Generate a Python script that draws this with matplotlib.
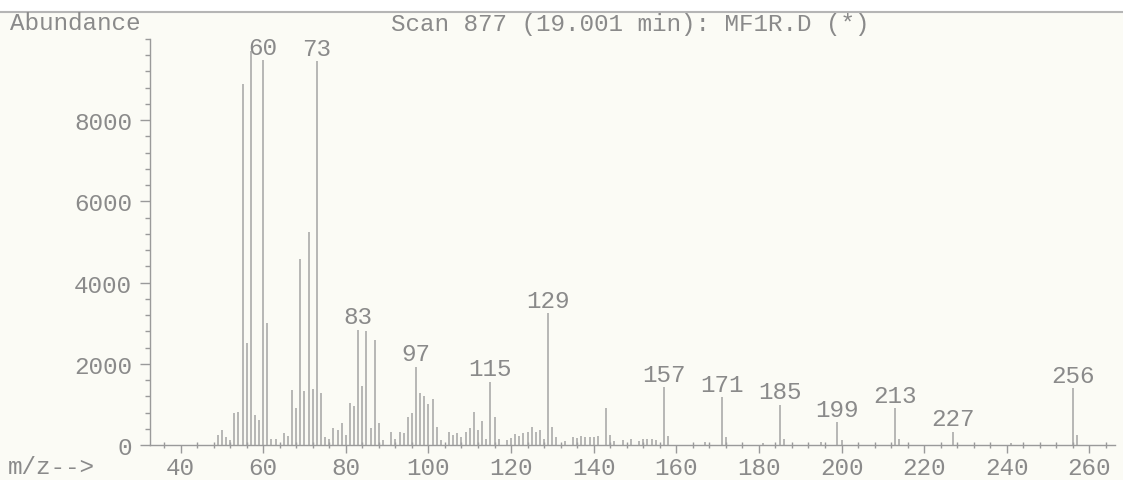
import matplotlib
matplotlib.use("Agg")
import matplotlib.pyplot as plt
from matplotlib.ticker import MultipleLocator

# m/z values and their abundances
mz = [49, 50, 51, 52, 53, 54, 55, 56, 57, 58, 59, 60, 61, 62, 63, 65, 66, 67, 68,
      69, 70, 71, 72, 73, 74, 75, 76, 77, 78, 79, 80, 81, 82, 83, 84, 85, 86, 87,
      88, 89, 91, 92, 93, 94, 95, 96, 97, 98, 99, 100, 101, 102, 103, 105, 106,
      107, 108, 109, 110, 111, 112, 113, 114, 115, 116, 117, 119, 120, 121, 122,
      123, 124, 125, 126, 127, 128, 129, 130, 131, 133, 135, 136, 137, 138, 139,
      140, 141, 143, 144, 145, 147, 149, 151, 152, 153, 154, 155, 157, 158, 167,
      171, 172, 181, 185, 186, 195, 199, 200, 213, 214, 227, 241, 256, 257]
abundance = [250, 370, 200, 120, 780, 820, 8900, 2510, 9700, 740, 620, 9480, 3000,
             160, 160, 290, 220, 1360, 900, 4590, 1320, 5250, 1370, 9450, 1280, 200,
             150, 410, 370, 530, 250, 1030, 950, 2840, 1460, 2800, 410, 2590, 530,
             120, 330, 150, 330, 290, 700, 780, 1930, 1280, 1200, 1000, 1130, 450,
             120, 330, 250, 290, 200, 330, 410, 820, 370, 580, 150, 1560, 700, 150,
             120, 180, 270, 220, 290, 330, 450, 330, 370, 150, 3250, 450, 200, 100,
             200, 180, 210, 200, 200, 200, 220, 900, 250, 100, 120, 160, 110, 150,
             150, 150, 120, 1420, 230, 80, 1180, 200, 60, 990, 150, 80, 560, 120,
             900, 150, 330, 50, 1400, 250]

# peaks that get an m/z label
labeled = [60, 73, 83, 97, 115, 129, 157, 171, 185, 199, 213, 227, 256]

title = "Scan 877 (19.001 min): MF1R.D (*)"

paper = "#fbfbf5"
ink = "#8a8a8a"
font = ["Liberation Mono", "DejaVu Sans Mono"]
fs = 17.5

fig = plt.figure(figsize=(11.23, 4.81), dpi=100, facecolor=paper)
ax = fig.add_axes([150 / 1123, 35 / 481, 965 / 1123, 406 / 481])
ax.set_facecolor(paper)

ax.vlines(mz, 0, abundance, color="#a4a4a4", linewidth=1.1)

heights = dict(zip(mz, abundance))
for m in labeled:
    ax.annotate(str(m), (m, heights[m]), xytext=(0, 1), textcoords="offset points",
                ha="center", va="bottom", fontsize=fs, family=font, color=ink)

ax.set_xlim(32.6, 266.2)
ax.set_ylim(0, 10000)

for s in ["top", "right"]:
    ax.spines[s].set_visible(False)
for s in ["left", "bottom"]:
    ax.spines[s].set_color("#9a9a9a")
    ax.spines[s].set_linewidth(1.0)

ax.xaxis.set_major_locator(MultipleLocator(20))
ax.xaxis.set_minor_locator(MultipleLocator(4))
ax.yaxis.set_major_locator(MultipleLocator(2000))
ax.yaxis.set_minor_locator(MultipleLocator(400))
ax.set_yticks([0, 2000, 4000, 6000, 8000])

ax.tick_params(axis="x", which="major", direction="out", length=6, width=1,
               color="#9a9a9a", pad=2, labelsize=fs, labelcolor=ink)
ax.tick_params(axis="x", which="minor", direction="inout", length=4, width=1,
               color="#9a9a9a")
ax.tick_params(axis="y", which="major", direction="out", length=7, width=1,
               color="#9a9a9a", pad=6, labelsize=fs, labelcolor=ink)
ax.tick_params(axis="y", which="minor", direction="out", length=3.5, width=1,
               color="#9a9a9a")
for lab in ax.get_xticklabels() + ax.get_yticklabels():
    lab.set_family(font)

fig.text(10 / 1123, 1 - 24 / 481, "Abundance", ha="left", va="center",
         fontsize=fs, family=font, color=ink)
fig.text(630 / 1123, 1 - 24 / 481, title, ha="center", va="center",
         fontsize=fs, family=font, color=ink)
fig.text(8 / 1123, 1 - 468 / 481, "m/z-->", ha="left", va="center",
         fontsize=fs, family=font, color=ink)

# white margin and page edge at the top
fig.patches.append(plt.Rectangle((0, 1 - 12 / 481), 1, 12 / 481, transform=fig.transFigure,
                                 facecolor="white", edgecolor="none"))
fig.lines.append(plt.Line2D([0, 1], [1 - 13 / 481] * 2, transform=fig.transFigure,
                            color="#b5b5b5", linewidth=1.5))

fig.savefig("out.png", dpi=100, facecolor=paper)
